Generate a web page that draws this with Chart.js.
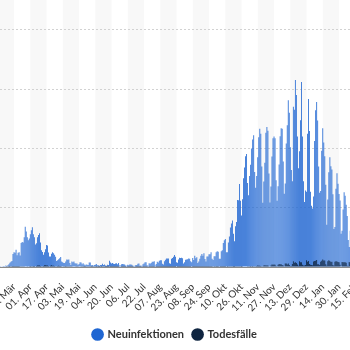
<!DOCTYPE html>
<html><head><meta charset="utf-8">
<script src="https://cdn.jsdelivr.net/npm/chart.js@4"></script>
<style>
html,body{margin:0;padding:0;background:#fff;}
#wrap{position:relative;width:350px;height:350px;overflow:hidden;}
#c{position:absolute;left:-20px;top:0;}
</style></head><body>
<div id="wrap"><canvas id="c" width="390" height="350"></canvas></div>
<script>
const monthNames = ['Jan','Feb','Mär','Apr','Mai','Jun','Jul','Aug','Sep','Okt','Nov','Dez'];
const firstDay = '2020-02-12';
const dayCount = 384;
const tickDates = ['2020-02-29','2020-03-16','2020-04-01','2020-04-17','2020-05-03','2020-05-19','2020-06-04','2020-06-20','2020-07-06','2020-07-22','2020-08-07','2020-08-23','2020-09-08','2020-09-24','2020-10-10','2020-10-26','2020-11-11','2020-11-27','2020-12-13','2020-12-29','2021-01-14','2021-01-30','2021-02-15'];
const yTicks = [0, 10000, 20000, 30000, 40000];
const yMax = 45000;

// Neuinfektionen (daily new infections)
const casesFeb20 = [0,2,0,0,0,0,0,0,0,0,0,0,0,2,6,20,10,19];
const casesMar20 = [57,28,37,66,132,188,129,241,136,281,451,700,900,1000,2200,2500,2400,2900,2000,2400,2500,1948,4062,4200,4118,5000,6800,6000,5000,4500,4800];
const casesApr20 = [5500,6200,6700,5500,5000,3800,4000,5000,5400,5700,4133,2821,2537,2082,2486,3000,3700,3609,2458,1775,1785,2237,2500,2337,2055,1737,1018,1144,1304,1478];
const casesMay20 = [1700,945,793,679,685,947,1284,1209,1251,667,357,933,798,913,620,583,583,342,513,797,745,460,638,431,289,432,362,353,741,738,286];
const casesJun20 = [333,213,342,394,507,301,301,214,350,318,555,348,407,247,192,378,345,1050,770,601,687,537,503,587,630,477,687,256,262,466];
const casesJul20 = [503,446,422,239,219,397,298,442,442,378,248,159,190,357,351,534,583,225,252,159,454,569,815,781,305,208,633,557,684,902,870];
const casesAug20 = [955,240,509,879,741,1045,1147,1122,555,436,966,1226,1445,1449,1415,625,561,1390,1510,1707,2034,1737,782,711,1278,1576,1507,1571,1479,610,785];
const casesSep20 = [1218,1256,1311,1453,1378,988,814,1499,1176,1892,1484,1630,667,927,1407,1901,2194,1916,2297,1345,922,1769,1769,2143,2153,2507,1411,1192,1798,1798];
const casesOct20 = [2503,2673,2563,1382,1382,2639,2828,4058,4516,4721,2467,2467,4122,5132,6638,7334,7830,5587,4325,6868,7595,11287,11242,14000,11176,8685,11409,14964,16774,18681,19059];
const casesNov20 = [14177,12097,15352,17214,19990,21506,22200,16017,13363,15332,18487,21866,23300,22461,16947,10824,14419,17561,22609,23600,22964,15741,10864,13554,18633,21700,22000,21695,14611,11169];
const casesDec20 = [13604,17270,22046,23400,23318,17767,12332,14054,20815,23900,28100,26000,20200,16362,14432,27000,26500,31500,29000,22000,16643,19528,24740,31200,22000,14455,10976,12892,12690,22459,28300];
const casesJan21 = [22924,12690,10315,9847,11897,21237,26400,27800,24694,16946,12497,12802,19600,23400,21000,18678,13882,7141,11369,15974,18500,17000,16417,12257,6408,6729,13202,15800,14022,12321,11192];
const casesFeb21 = [5608,6114,9705,12600,12000,10485,8616,4535,3379,6114];

// Todesfälle (daily deaths)
const deathsFeb20 = [0,0,0,0,0,0,0,0,0,0,0,0,0,0,0,0,0,0];
const deathsMar20 = [0,0,0,0,0,0,0,0,2,0,1,2,0,2,4,2,5,8,8,13,20,24,28,35,47,63,85,72,107,104,128];
const deathsApr20 = [149,140,145,169,184,92,173,254,246,266,171,129,126,170,285,315,248,242,184,110,194,281,215,227,179,140,110,163,202,173];
const deathsMay20 = [156,113,94,43,139,165,147,118,118,26,22,116,101,89,101,53,33,26,72,83,57,49,42,10,10,47,41,47,39,31,10];
const deathsJun20 = [11,29,24,29,19,26,7,8,24,18,26,24,26,5,2,10,16,26,21,4,6,3,10,11,14,13,4,0,0,12];
const deathsJul20 = [8,6,7,6,0,2,9,7,10,5,4,0,0,6,12,2,1,10,2,0,1,9,5,9,5,0,1,4,7,5,5];
const deathsAug20 = [5,0,6,1,9,6,7,6,1,1,4,3,4,5,10,1,5,6,6,5,1,3,0,3,3,6,9,5,10,4,1];
const deathsSep20 = [3,6,9,6,6,2,0,3,6,10,8,2,2,1,9,9,13,12,9,2,2,11,16,14,11,5,2,0,11,24];
const deathsOct20 = [11,12,11,0,4,13,16,12,10,10,0,6,27,43,33,24,33,7,7,42,39,30,49,27,29,19,42,85,89,103,103];
const deathsNov20 = [29,49,131,151,118,166,130,63,63,154,261,215,218,178,107,63,267,305,251,260,254,138,90,249,410,389,426,379,158,147];
const deathsDec20 = [388,487,479,483,321,255,147,590,590,440,598,321,188,184,500,952,698,813,679,409,226,962,794,802,400,240,240,348,1129,891,1000];
const deathsJan21 = [500,400,348,302,944,1019,1070,1188,465,465,343,891,1060,1244,1113,1113,445,214,989,1148,1013,859,879,349,228,903,982,941,839,794,399];
const deathsFeb21 = [99,861,786,786,813,713,230,154,859,666];

const neuinfektionen = [].concat(casesFeb20,casesMar20,casesApr20,casesMay20,casesJun20,casesJul20,casesAug20,casesSep20,casesOct20,casesNov20,casesDec20,casesJan21,casesFeb21);
const todesfaelle = [].concat(deathsFeb20,deathsMar20,deathsApr20,deathsMay20,deathsJun20,deathsJul20,deathsAug20,deathsSep20,deathsOct20,deathsNov20,deathsDec20,deathsJan21,deathsFeb21);

const categories = [];
const t0 = Date.parse(firstDay + 'T00:00:00Z');
for (let i = 0; i < dayCount; i++) categories.push(new Date(t0 + i * 86400000).toISOString().slice(0, 10));
function fmt(iso) { const p = iso.split('-'); return p[2] + '. ' + monthNames[+p[1] - 1]; }

const stripes = {
  id: 'stripes',
  beforeDraw(chart) {
    const { ctx, chartArea: a, scales: { x } } = chart;
    ctx.save();
    ctx.fillStyle = '#f8f8f8';
    for (let j = 0; j + 1 < tickDates.length; j += 2) {
      const x1 = x.getPixelForValue(categories.indexOf(tickDates[j]));
      const x2 = x.getPixelForValue(categories.indexOf(tickDates[j + 1]));
      ctx.fillRect(x1, a.top, x2 - x1, a.bottom - a.top);
    }
    ctx.restore();
  }
};

new Chart(document.getElementById('c'), {
  type: 'bar',
  data: {
    labels: categories,
    datasets: [
      { label: 'Neuinfektionen', data: neuinfektionen, backgroundColor: '#1f66d2', order: 1, barPercentage: 0.8, categoryPercentage: 1 },
      { label: 'Todesfälle', data: todesfaelle, backgroundColor: '#0f2540', order: 0, barPercentage: 0.8, categoryPercentage: 1 }
    ]
  },
  options: {
    responsive: false,
    devicePixelRatio: 1,
    animation: false,
    layout: { padding: 0 },
    datasets: { bar: { grouped: false } },
    plugins: {
      tooltip: { enabled: false },
      legend: {
        position: 'bottom',
        labels: {
          usePointStyle: true, pointStyle: 'circle', boxWidth: 9, boxHeight: 9,
          padding: 9, color: '#333',
          font: { family: 'Lato', size: 11, weight: 'bold' },
          sort: (a, b) => a.datasetIndex - b.datasetIndex
        }
      }
    },
    scales: {
      x: {
        grid: { display: false, drawTicks: true, tickLength: 6 },
        border: { display: true, color: '#8a8a8a' },
        ticks: {
          autoSkip: false, minRotation: 45, maxRotation: 45, padding: 8,
          color: '#333', font: { family: 'Lato', size: 10 },
          callback: function (v, i) { const c = categories[i]; return tickDates.includes(c) ? fmt(c) : ''; }
        },
        afterFit: s => { s.height = 53; s.paddingLeft = 0; s.paddingRight = 0; }
      },
      y: {
        min: 0, max: yMax,
        ticks: { display: false },
        afterBuildTicks: s => { s.ticks = yTicks.map(v => ({ value: v })); },
        grid: { drawTicks: false, color: c => (c.tick && c.tick.value === 0) ? 'rgba(0,0,0,0)' : '#d2d2d2' },
        border: { display: false, dash: [2, 2] },
        afterFit: s => { s.width = 0; }
      }
    }
  },
  plugins: [stripes]
});
</script>
</body></html>
